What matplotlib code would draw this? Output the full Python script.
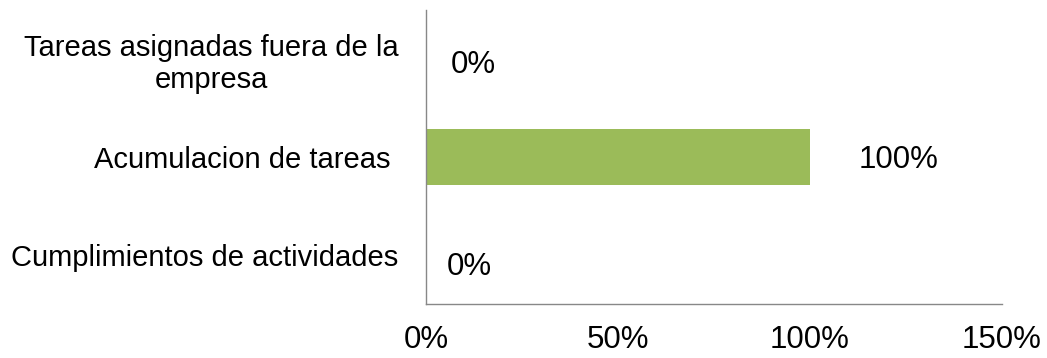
import matplotlib.pyplot as plt
import numpy as np

categories = ["Cumplimientos de actividades", "Acumulacion de tareas ",
              "Tareas asignadas fuera de la\nempresa"]
values = [0, 100, 0]
xticks = [0, 50, 100, 150]
xtick_labels = ["0%", "50%", "100%", "150%"]

plt.rcParams['font.family'] = ['Liberation Sans', 'DejaVu Sans']

fig = plt.figure(figsize=(10.47, 3.58), dpi=100)
ax = fig.add_axes([0.407, 0.151, 0.55, 0.821])

y = np.arange(len(categories))
ax.barh(y, values, height=0.58, color="#9BBB59")
ax.set_xlim(0, 150)
ax.set_ylim(-0.5, 2.5)
ax.set_xticks(xticks)
ax.set_xticklabels(xtick_labels, fontsize=22.5)
ax.set_yticks(y)
ax.set_yticklabels(categories, multialignment="center", fontsize=21)
ax.tick_params(axis="both", length=0)
ax.tick_params(axis="y", pad=20)
ax.tick_params(axis="x", pad=15)

for s in ["top", "right"]:
    ax.spines[s].set_visible(False)
for s in ["left", "bottom"]:
    ax.spines[s].set_color("#888888")
    ax.spines[s].set_linewidth(1)

# label offsets, bottom row first
offsets = [(15, -9), (35, -2), (18, -4)]
for yi, v, off in zip(y, values, offsets):
    ax.annotate(f"{v}%", (v, yi), xytext=off, textcoords="offset points",
                ha="left", va="center", fontsize=22.5)

fig.savefig("out.png", dpi=100)
